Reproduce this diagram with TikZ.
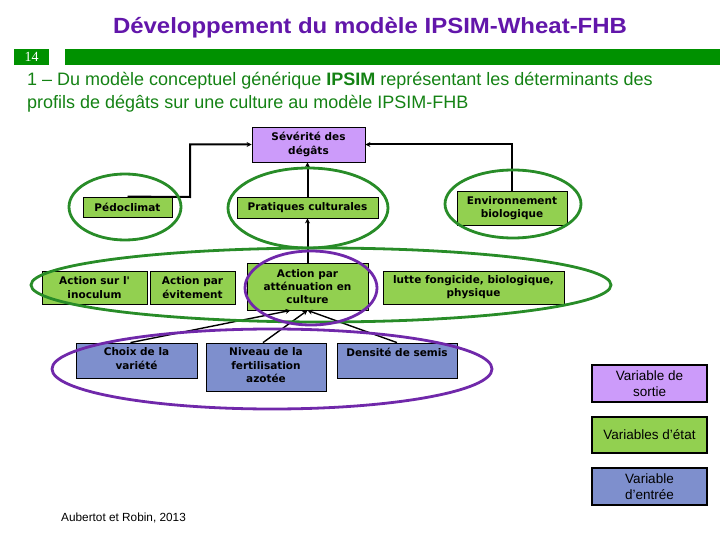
\documentclass[tikz,border=0pt]{standalone}
\usepackage{fontspec}
\usepackage{graphicx}
\setmainfont{Liberation Sans}
\newfontfamily\boxfont{DejaVu Sans}
\newfontfamily\numfont{Liberation Serif}
\usetikzlibrary{arrows.meta,calc}
\definecolor{titlepurple}{RGB}{98,22,170}
\definecolor{subgreen}{RGB}{20,130,20}
\definecolor{bargreen}{RGB}{0,145,0}
\definecolor{boxgreen}{RGB}{146,208,80}
\definecolor{lav}{RGB}{204,155,250}
\definecolor{boxblue}{RGB}{126,143,205}
\definecolor{ellgreen}{RGB}{40,140,40}
\definecolor{ellpurple}{RGB}{112,40,170}
\tikzset{
  gbox/.style={draw=black, line width=0.8pt, fill=boxgreen, inner sep=0pt, align=center,
    font=\boxfont\bfseries\fontsize{10.5}{13.2}\selectfont},
  pbox/.style={gbox, fill=lav},
  bbox/.style={draw=black, line width=0.8pt, fill=boxblue, inner sep=0pt,
    font=\boxfont\bfseries\fontsize{10.5}{13.2}\selectfont},
  legbox/.style={draw=black, line width=2.5pt, inner sep=0pt, align=center,
    minimum width=115, font=\fontsize{13.5}{15.5}\selectfont},
  conn/.style={draw=black, line width=2pt, -{Stealth[length=5pt,width=5pt]}},
  thinconn/.style={draw=black, line width=1.4pt, -{Stealth[length=5pt,width=5pt]}},
  gell/.style={draw=ellgreen, line width=2.8pt},
  pell/.style={draw=ellpurple, line width=2.8pt},
  subline/.style={anchor=base west, inner sep=0pt, text=subgreen, font=\fontsize{18}{23}\selectfont}
}
\newcommand{\topbox}[3]{\parbox[t][#2][t]{#1}{\centering\vspace*{5pt}#3}}
\begin{document}
\begin{tikzpicture}[x=1pt,y=-1pt]
\useasboundingbox (0,0) rectangle (720,540);
% title
\node[text=titlepurple, inner sep=0pt] (title) at (370,28)
  {\resizebox{514pt}{\height}{\fontsize{22}{26}\selectfont\bfseries Développement du modèle IPSIM-Wheat-FHB}};
% green bar
\node[fill=bargreen, minimum width=35, minimum height=16, inner sep=0pt, text=white,
  font=\numfont\fontsize{14}{14}\selectfont] (num) at (31.5,57) {14};
\node[fill=bargreen, minimum width=655, minimum height=16, inner sep=0pt] (bar) at (392.5,57) {};
% subtitle
\node[subline] (sub1) at (27,86)
  {1 – Du modèle conceptuel générique \textbf{IPSIM} représentant les déterminants des};
\node[subline] (sub2) at (27,109)
  {profils de dégâts sur une culture au modèle IPSIM-FHB};
% boxes
\node[pbox, minimum width=113, minimum height=35] (sev) at (308.5,144.5) {Sévérité des\\dégâts};
\node[gbox, minimum width=89, minimum height=20] (pedo) at (127.5,207) {Pédoclimat};
\node[gbox, minimum width=141, minimum height=21] (prat) at (307.5,207.5) {Pratiques culturales};
\node[gbox, minimum width=110, minimum height=34] (env) at (512,208) {Environnement\\biologique};
\node[gbox, minimum width=105, minimum height=33] (inoc) at (94.5,287.5) {Action sur l'\\inoculum};
\node[gbox, minimum width=85, minimum height=33] (evit) at (192.5,287.5) {Action par\\évitement};
\node[gbox, minimum width=121, minimum height=47] (att) at (307.5,286.5) {Action par\\atténuation en\\culture};
\node[gbox, minimum width=181, minimum height=33] (lutte) at (473.5,287.5) {lutte fongicide, biologique,\\physique};
\node[bbox] (choix) at (136.5,360.5) {\topbox{121pt}{35pt}{Choix de la\\variété}};
\node[bbox] (niveau) at (266,367) {\topbox{120pt}{48pt}{Niveau de la\\fertilisation\\azotée}};
\node[bbox] (dens) at (397,360.5) {\topbox{120pt}{35pt}{Densité de semis}};
% connectors
\coordinate (k1) at (190,197);
\draw[conn] (pedo.north) -- (k1) |- (sev.west);
\draw[conn] (env.north) |- (sev.east);
\draw[conn] (prat.north) -- (prat.north |- sev.south);
\draw[conn] (att.north) -- (att.north |- prat.south);
\draw[thinconn] ($(choix.north)+(-6,0)$) -- ($(att.south)+(-17,0)$);
\draw[thinconn] ($(niveau.north)+(-3,0)$) -- (att.south);
\draw[thinconn] (dens.north) -- (att.south);
% ellipses
\draw[gell] (125,207) ellipse [x radius=56, y radius=33];
\draw[gell] (308,208) ellipse [x radius=80, y radius=40];
\draw[gell] (513,204) ellipse [x radius=68, y radius=34];
\draw[gell] (321,285) ellipse [x radius=290, y radius=37];
\draw[pell] (311,288) ellipse [x radius=66, y radius=37];
\draw[pell] (272,369) ellipse [x radius=220, y radius=40];
% legend
\node[legbox, fill=lav, minimum height=37] (l1) at (649.5,383.5) {Variable de\\sortie};
\node[legbox, fill=boxgreen, minimum height=36] (l2) at (649.5,435) {Variables d'état};
\node[legbox, fill=boxblue, minimum height=37] (l3) at (649.5,486.5) {Variable\\d'entrée};
% citation
\node[anchor=west, inner sep=0pt, font=\fontsize{11.8}{14}\selectfont] (cite) at (61,518) {Aubertot et Robin, 2013};
\end{tikzpicture}
\end{document}
